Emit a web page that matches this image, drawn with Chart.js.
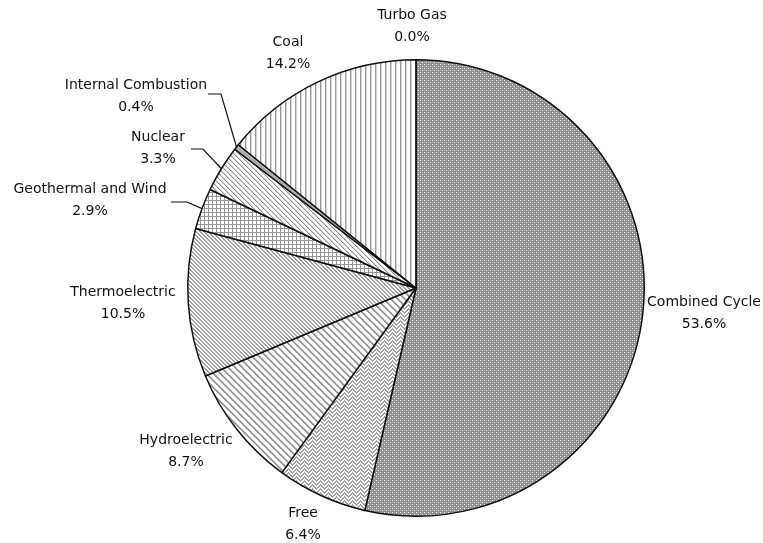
<!DOCTYPE html>
<html>
<head>
<meta charset="utf-8">
<script src="https://cdn.jsdelivr.net/npm/chart.js@4.4.0/dist/chart.umd.min.js"></script>
<style>
  html, body { margin: 0; padding: 0; background: #ffffff; }
  #wrap { width: 763px; height: 543px; }
</style>
</head>
<body>
<div id="wrap"><canvas id="pie" width="763" height="543"></canvas></div>
<script>
// Installed capacity by generation technology (share of total, %)
const categories = [
  'Combined Cycle', 'Free', 'Hydroelectric', 'Thermoelectric',
  'Geothermal and Wind', 'Nuclear', 'Internal Combustion', 'Coal', 'Turbo Gas'
];
const shares = [53.6, 6.4, 8.7, 10.5, 2.9, 3.3, 0.4, 14.2, 0.0];

// Label anchors, as offsets from the pie centre (px)
const labelOffsets = [
  [288, 25], [-113, 236], [-230, 163], [-293, 15],
  [-326, -88], [-258, -140], [-280, -192], [-128, -235], [-4, -262]
];
// Leader lines: label-side start and elbow, as offsets from the pie centre
const leaders = {
  4: [[-245, -86], [-229, -86]],
  5: [[-225, -139], [-213, -139]],
  6: [[-208, -194], [-195, -194]]
};

// Monochrome fill patterns built pixel by pixel
function makePattern(w, h, painter) {
  const c = document.createElement('canvas');
  c.width = w; c.height = h;
  const g = c.getContext('2d');
  g.fillStyle = '#ffffff';
  g.fillRect(0, 0, w, h);
  for (let y = 0; y < h; y++) {
    for (let x = 0; x < w; x++) {
      const col = painter(x, y);
      if (col) { g.fillStyle = col; g.fillRect(x, y, 1, 1); }
    }
  }
  return g.createPattern(c, 'repeat');
}
const mod = (a, n) => ((a % n) + n) % n;

const fills = [
  // dotted mid grey
  makePattern(4, 4, (x, y) => {
    if ((x === 0 && y === 0) || (x === 2 && y === 2)) return '#f4f4f4';
    if ((x === 2 && y === 0) || (x === 0 && y === 2)) return '#aaaaaa';
    return '#8e8e8e';
  }),
  // zigzag bands
  makePattern(8, 4, (x, y) => {
    const f = x < 4 ? x : 8 - x;
    return mod(y - f, 4) < 2 ? '#a4a4a4' : null;
  }),
  // wide diagonal stripes
  makePattern(7, 7, (x, y) => {
    const d = mod(x - y, 7);
    if (d < 2) return '#999999';
    if (d === 2) return '#c6c6c6';
    return null;
  }),
  // fine diagonal stripes
  makePattern(4, 4, (x, y) => (mod(x - y, 4) < 2 ? '#a0a0a0' : null)),
  // grid
  makePattern(4, 4, (x, y) => (x === 0 || y === 0 ? '#969696' : null)),
  // thin diagonal lines
  makePattern(5, 5, (x, y) => {
    const d = mod(x - y, 5);
    if (d === 0) return '#8c8c8c';
    if (d === 1) return '#d6d6d6';
    return null;
  }),
  // solid light grey
  '#adadad',
  // vertical lines
  makePattern(5, 1, (x) => (x === 0 ? '#999999' : x === 1 ? '#d4d4d4' : null)),
  '#ffffff'
];

const FONT = '14px "DejaVu Sans", Verdana, sans-serif';

const labelPlugin = {
  id: 'sliceLabels',
  afterDatasetsDraw(chart) {
    const ctx = chart.ctx;
    const arcs = chart.getDatasetMeta(0).data;
    ctx.save();
    ctx.font = FONT;
    ctx.fillStyle = '#111111';
    ctx.textAlign = 'center';
    ctx.textBaseline = 'middle';
    arcs.forEach((arc, i) => {
      const p = arc.getProps(['x', 'y', 'startAngle', 'endAngle', 'outerRadius'], true);
      const lx = p.x + labelOffsets[i][0];
      const ly = p.y + labelOffsets[i][1];
      ctx.fillText(categories[i], lx, ly - 11);
      ctx.fillText(shares[i].toFixed(1) + '%', lx, ly + 11);
      if (leaders[i]) {
        const mid = (p.startAngle + p.endAngle) / 2;
        const ex = p.x + Math.cos(mid) * p.outerRadius;
        const ey = p.y + Math.sin(mid) * p.outerRadius;
        ctx.beginPath();
        ctx.strokeStyle = '#111111';
        ctx.lineWidth = 1.2;
        ctx.moveTo(p.x + leaders[i][0][0], p.y + leaders[i][0][1]);
        ctx.lineTo(p.x + leaders[i][1][0], p.y + leaders[i][1][1]);
        ctx.lineTo(ex, ey);
        ctx.stroke();
      }
    });
    ctx.restore();
  }
};

new Chart(document.getElementById('pie'), {
  type: 'pie',
  data: {
    labels: categories,
    datasets: [{
      data: shares,
      backgroundColor: fills,
      borderColor: '#111111',
      borderWidth: 1.5
    }]
  },
  options: {
    responsive: false,
    devicePixelRatio: 1,
    animation: false,
    layout: { padding: { left: 187, right: 118, top: 59, bottom: 26 } },
    plugins: {
      legend: { display: false },
      tooltip: { enabled: false }
    }
  },
  plugins: [labelPlugin]
});
</script>
</body>
</html>
